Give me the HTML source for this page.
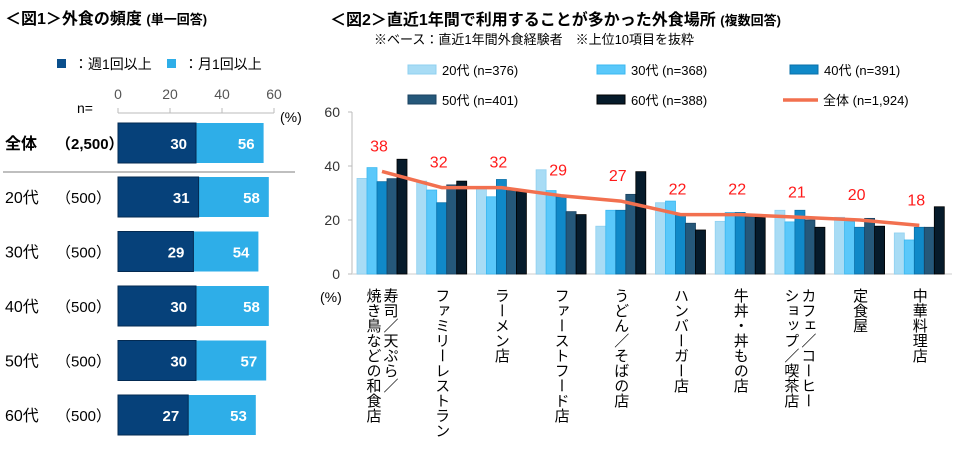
<!DOCTYPE html>
<html><head><meta charset="utf-8">
<style>
html,body{margin:0;padding:0;background:#fff;}
body{width:960px;height:457px;overflow:hidden;position:relative;font-family:"Liberation Sans","Noto Sans CJK JP",sans-serif;color:#000;}
.t{position:absolute;white-space:nowrap;}
</style></head>
<body>
<div class="t" style="left:5px;top:5px;font-size:16px;font-weight:bold;">＜図1＞外食の頻度 <span style="font-size:13px">(単一回答)</span></div>
<div class="t" style="left:330px;top:6px;font-size:16px;font-weight:bold;">＜図2＞直近1年間で利用することが多かった外食場所 <span style="font-size:13px">(複数回答)</span></div>
<div class="t" style="left:374px;top:29px;font-size:13px;">※ベース：直近1年間外食経験者　※上位10項目を抜粋</div>
<svg id="c1" width="330" height="457" style="position:absolute;left:0;top:0" font-family="Liberation Sans, Noto Sans CJK JP, sans-serif"></svg>
<svg id="c2" width="960" height="457" style="position:absolute;left:0;top:0" font-family="Liberation Sans, Noto Sans CJK JP, sans-serif"></svg>
<script>
const NS='http://www.w3.org/2000/svg';
function mk(p,tag,a,txt){const e=document.createElementNS(NS,tag);for(const k in a)e.setAttribute(k,a[k]);if(txt!==undefined)e.textContent=txt;p.appendChild(e);return e;}

// Chart 1 data
const rowLabels=['全体','20代','30代','40代','50代','60代'];
const rowN=['（2,500）','（500）','（500）','（500）','（500）','（500）'];
const weekly=[30,31,29,30,30,27];
const monthly=[56,58,54,58,57,53];
const ticks1=[0,20,40,60];

const c1=document.getElementById('c1');
const x1=v=>118+v*2.6;
const rowY=i=>i===0?123:177+(i-1)*54.5;
let g;
g=mk(c1,'g',{});

mk(g,'rect',{x:57,y:59,width:9,height:9,fill:'#0a4f8c'});
mk(g,'text',{x:74,y:69,'font-size':14},'：週1回以上');
g=mk(c1,'g',{});

mk(g,'rect',{x:167,y:59,width:9,height:9,fill:'#2eaee8'});
mk(g,'text',{x:184,y:69,'font-size':14},'：月1回以上');
mk(c1,'text',{x:77,y:113,'font-size':14},'n=');
mk(c1,'text',{x:280,y:122,'font-size':14},'(%)');
mk(c1,'line',{x1:x1(0),x2:x1(60),y1:113,y2:113,stroke:'#bbb'});
ticks1.forEach(t=>{
  mk(c1,'line',{x1:x1(t),x2:x1(t),y1:108,y2:113,stroke:'#bbb'});
  const tt=mk(c1,'text',{x:x1(t),y:99,'font-size':14,'text-anchor':'middle',fill:'#555'},t);
  
});
mk(c1,'line',{x1:3,x2:295,y1:172,y2:172,stroke:'#aaa','stroke-width':1.5});
rowLabels.forEach((l,i)=>{
  const y=rowY(i),h=40;
  const bold=i===0?'bold':'normal';
  mk(c1,'text',{x:5,y:y+26,'font-size':16,'font-weight':bold},l);
  mk(c1,'text',{x:56,y:y+26,'font-size':15,'font-weight':bold},rowN[i]);
  const b2=mk(c1,'rect',{x:x1(weekly[i]),y:y,width:x1(monthly[i])-x1(weekly[i]),height:h,fill:'#2eaee8'});
  
  const b1=mk(c1,'rect',{x:x1(0),y:y,width:x1(weekly[i])-x1(0),height:h,fill:'#06417a',stroke:'#032a52','stroke-width':1});
  
  mk(c1,'text',{x:x1(weekly[i])-9,y:y+26,'font-size':15,'font-weight':'bold',fill:'#fff','text-anchor':'end'},weekly[i]);
  mk(c1,'text',{x:x1(monthly[i])-9,y:y+26,'font-size':15,'font-weight':'bold',fill:'#fff','text-anchor':'end'},monthly[i]);
});

// Chart 2 data
const categories=[['寿司／天ぷら／','焼き鳥などの和食店'],['ファミリーレストラン'],['ラーメン店'],['ファーストフード店'],['うどん／そばの店'],['ハンバーガー店'],['牛丼・丼もの店'],['カフェ／コーヒー','ショップ／喫茶店'],['定食屋'],['中華料理店']];
const seriesNames=['20代 (n=376)','30代 (n=368)','40代 (n=391)','50代 (n=401)','60代 (n=388)'];
const s20=[35.4,34.4,31.8,38.6,17.7,26.4,19.5,23.6,21,15.2];
const s30=[39.4,31.1,28.6,30.9,23.6,27,22.8,19.3,19.4,12.6];
const s40=[34.2,26.4,35,28.6,23.6,21.9,22.8,23.6,17.3,17.3];
const s50=[35.3,33,30.9,23.1,29.5,18.8,21.2,20,20.6,17.3];
const s60=[42.5,34.4,30.5,22,37.9,16.3,21,17.3,17.7,24.9];
const total=[38,32,32,29,27,22,22,21,20,18];
const ticks2=[0,20,40,60];
const series=[s20,s30,s40,s50,s60];
const colors=['#a8dcf5','#5ac8fa','#1089c8','#25587a','#061b2b'];
const strokes=['#8fd0f0','#3bb8f0','#0a70a8','#1a4260','#000'];

const c2=document.getElementById('c2');
const y2=v=>274-v*2.7;
const gx=i=>357+i*59.7;
const cx=i=>gx(i)+25;
ticks2.forEach(t=>{
  const tt=mk(c2,'text',{x:340,y:y2(t)+5,'font-size':14,'text-anchor':'end',fill:'#333'},t);
  
  mk(c2,'line',{x1:348,x2:352,y1:y2(t),y2:y2(t),stroke:'#bbb'});
});
mk(c2,'line',{x1:352,x2:352,y1:y2(60),y2:y2(0),stroke:'#bbb'});
mk(c2,'line',{x1:352,x2:952,y1:y2(0),y2:y2(0),stroke:'#ddd','stroke-width':1.5});
mk(c2,'text',{x:320,y:302,'font-size':14},'(%)');
series.forEach((s,k)=>{
  s.forEach((v,i)=>{
    const r=mk(c2,'rect',{x:gx(i)+k*10,y:y2(v),width:10,height:y2(0)-y2(v),fill:colors[k],stroke:strokes[k],'stroke-width':0.8});
    
    
  });
});
const pts=total.map((v,i)=>cx(i)+','+y2(v)).join(' ');
const pl=mk(c2,'polyline',{points:pts,fill:'none',stroke:'#f2704f','stroke-width':3.5,'stroke-linejoin':'round'});

total.forEach((v,i)=>{
  const t=mk(c2,'text',{x:cx(i)-3,y:y2(v)-20,'font-size':16,fill:'#ff1a1a','text-anchor':'middle'},v);
  
});
categories.forEach((lines,i)=>{
  const n=lines.length;
  lines.forEach((l,j)=>{
    const x=cx(i)+(n===2?(j===0?8:-9):0);
    const t=mk(c2,'text',{x:x,y:288,'font-size':15,style:'writing-mode:vertical-rl;text-orientation:upright;letter-spacing:0px'},l);
    
  });
});
// legend
const legPos=[[408,70],[597,70],[790,70],[408,100],[597,100]];
seriesNames.forEach((nm,k)=>{
  const lg=mk(c2,'g',{});
  
  mk(lg,'rect',{x:legPos[k][0],y:legPos[k][1]-5,width:28,height:9,fill:colors[k],stroke:strokes[k]});
  mk(lg,'text',{x:legPos[k][0]+34,y:legPos[k][1]+5,'font-size':13},nm);
});
const lt=mk(c2,'g',{});

mk(lt,'line',{x1:783,x2:818,y1:100,y2:100,stroke:'#f2704f','stroke-width':3.5});
mk(lt,'text',{x:823,y:105,'font-size':13},'全体 (n=1,924)');
</script>
</body></html>
